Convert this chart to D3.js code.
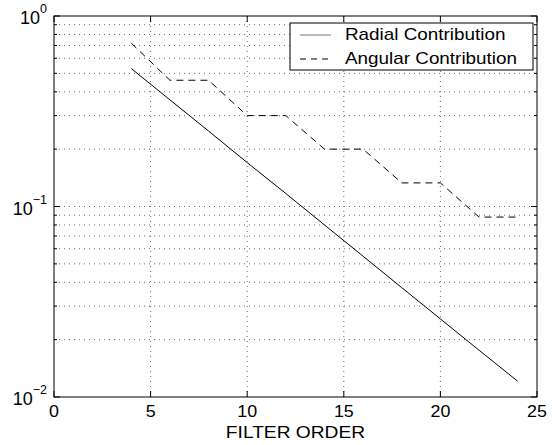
<!DOCTYPE html>
<html>
<head>
<meta charset="utf-8">
<script src="https://cdn.jsdelivr.net/npm/d3@7"></script>
<style>
  body { margin: 0; background: #fff; }
  text { font-family: "Liberation Sans", Arial, sans-serif; fill: #000; }
</style>
</head>
<body>
<div id="chart"></div>
<script>
// filter orders and the two error contributions
const orders = [4, 6, 8, 10, 12, 14, 16, 18, 20, 22, 24];
const radial = [0.53, 0.363, 0.249, 0.170, 0.117, 0.080, 0.0548, 0.0375, 0.0257, 0.0176, 0.0121];
const angular = [0.72, 0.46, 0.46, 0.30, 0.30, 0.20, 0.20, 0.133, 0.133, 0.088, 0.088];
const xTicks = [0, 5, 10, 15, 20, 25];
const yTicks = [1, 0.1, 0.01];
const yTickExp = ["0", "\u22121", "\u22122"];
const seriesNames = ["Radial Contribution", "Angular Contribution"];

const width = 555, height = 445;
const mLeft = 54, mRight = 537, mTop = 16, mBottom = 397;

const svg = d3.select("#chart").append("svg")
    .attr("width", width)
    .attr("height", height);

const x = d3.scaleLinear().domain([0, 25]).range([mLeft, mRight]);
const y = d3.scaleLog().domain([0.01, 1]).range([mBottom, mTop]);

// minor log ticks 2..9 in each decade
let minor = [];
[0.01, 0.1].forEach(d => {
    for (let k = 2; k <= 9; k++) minor.push(d * k);
});

// grid
const grid = svg.append("g")
    .attr("stroke", "#444")
    .attr("stroke-width", 0.8)
    .attr("stroke-dasharray", "1,4");
grid.selectAll(".gx")
    .data(xTicks.slice(1, -1))
    .enter()
    .append("line")
    .attr("x1", d => x(d)).attr("x2", d => x(d))
    .attr("y1", mTop).attr("y2", mBottom);
grid.selectAll(".gy")
    .data(minor.concat([0.1]))
    .enter()
    .append("line")
    .attr("x1", mLeft).attr("x2", mRight)
    .attr("y1", d => y(d)).attr("y2", d => y(d));

// ticks, inward on all four sides
const ticks = svg.append("g").attr("stroke", "#000").attr("stroke-width", 1);
xTicks.forEach(d => {
    ticks.append("line").attr("x1", x(d)).attr("x2", x(d)).attr("y1", mBottom).attr("y2", mBottom - 6);
    ticks.append("line").attr("x1", x(d)).attr("x2", x(d)).attr("y1", mTop).attr("y2", mTop + 6);
});
yTicks.forEach(d => {
    ticks.append("line").attr("x1", mLeft).attr("x2", mLeft + 6).attr("y1", y(d)).attr("y2", y(d));
    ticks.append("line").attr("x1", mRight).attr("x2", mRight - 6).attr("y1", y(d)).attr("y2", y(d));
});
minor.forEach(d => {
    ticks.append("line").attr("x1", mLeft).attr("x2", mLeft + 3).attr("y1", y(d)).attr("y2", y(d));
    ticks.append("line").attr("x1", mRight).attr("x2", mRight - 3).attr("y1", y(d)).attr("y2", y(d));
});

// frame
svg.append("rect")
    .attr("x", mLeft).attr("y", mTop)
    .attr("width", mRight - mLeft).attr("height", mBottom - mTop)
    .attr("fill", "none")
    .attr("stroke", "#000")
    .attr("stroke-width", 1);

// data lines
const line = d3.line().x(d => x(d[0])).y(d => y(d[1]));
svg.append("path")
    .attr("d", line(orders.map((o, i) => [o, radial[i]])))
    .attr("fill", "none")
    .attr("stroke", "#000")
    .attr("stroke-width", 1);
svg.append("path")
    .attr("d", line(orders.map((o, i) => [o, angular[i]])))
    .attr("fill", "none")
    .attr("stroke", "#000")
    .attr("stroke-width", 1)
    .attr("stroke-dasharray", "7,5");

function label(px, py, anchor, size, stretch) {
    return svg.append("g")
        .attr("transform", `translate(${px},${py}) scale(${stretch},1)`)
        .append("text")
        .attr("text-anchor", anchor)
        .attr("font-size", size);
}

// x tick labels
xTicks.forEach(d => {
    label(x(d), 417, "middle", 17, 1.05).text(d);
});

// y tick labels 10^n
yTicks.forEach((d, i) => {
    const t = label(47, y(d) + 8, "end", 18, 1);
    t.append("tspan").text("10");
    t.append("tspan").attr("dy", -11).attr("font-size", 12.5).text(yTickExp[i]);
});

label((mLeft + mRight) / 2, 438, "middle", 16, 1.2).text("FILTER ORDER");

// legend
const lg = svg.append("g");
lg.append("rect")
    .attr("x", 290).attr("y", 23)
    .attr("width", 243).attr("height", 47)
    .attr("fill", "#fff")
    .attr("stroke", "#000")
    .attr("stroke-width", 1);
seriesNames.forEach((name, i) => {
    const ly = 35 + i * 24;
    lg.append("line")
        .attr("x1", 300).attr("x2", 331)
        .attr("y1", ly).attr("y2", ly)
        .attr("stroke", i === 0 ? "#777" : "#000")
        .attr("stroke-width", 1)
        .attr("stroke-dasharray", i === 0 ? null : "6,5");
    label(345, ly + 5, "start", 16, 1.18).text(name);
});
</script>
</body>
</html>
